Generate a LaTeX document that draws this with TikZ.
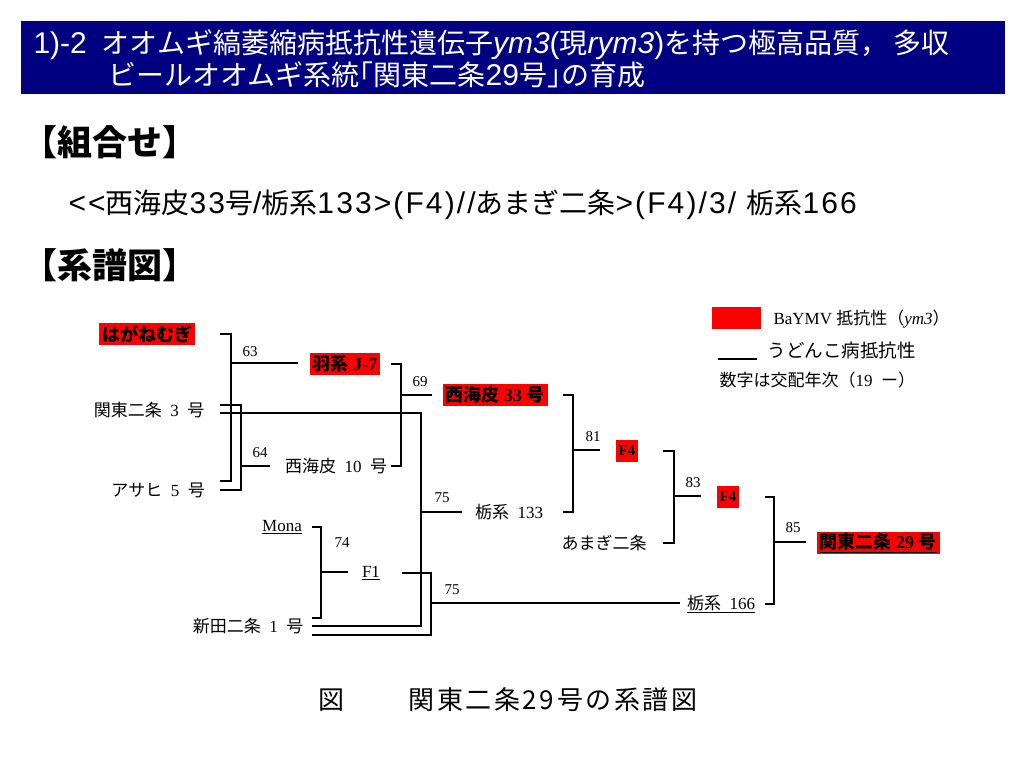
\documentclass[tikz,border=0pt]{standalone}
\usepackage{fontspec}
\usepackage{xcolor}
\setmainfont{Liberation Serif}
\newfontfamily\jp{Noto Sans CJK JP}
\newfontfamily\hd{Liberation Sans}
\newfontfamily\hdsp{Liberation Sans}[LetterSpace=7]
\newfontfamily\capjp{Noto Sans CJK JP}[LetterSpace=10]
\usetikzlibrary{calc}
\definecolor{hdblue}{RGB}{0,0,128}
\definecolor{resred}{RGB}{255,0,0}
\newcommand{\fsz}[1]{\fontsize{#1}{#1}\selectfont}

\begin{document}
\begin{tikzpicture}[x=1pt, y=-1pt, line width=1.1pt,
    cult/.style={inner sep=1pt, font=\fsz{17}},
    resist/.style={fill=resred, inner xsep=3pt, inner ysep=1pt, minimum height=22pt, font=\fsz{18}\bfseries},
    year/.style={inner sep=0pt, font=\fsz{15}},
    leg/.style={inner sep=0pt, anchor=west}]
  \useasboundingbox (0,0) rectangle (1024,768);

  % Encabezado
  \node[fill=hdblue, minimum width=984pt, minimum height=73pt, inner sep=0pt, anchor=north west] (head) at (20,20) {};
  \node[anchor=west, inner sep=0pt, text=white, font=\jp\fsz{28}] (tit1) at (33,45)
    {{\hd\fsz{30}1)-2}\hspace{15pt}オオムギ縞萎縮病抵抗性遺伝子{\hd\fsz{30}\itshape ym3}{\hd\fsz{30}(}現{\hd\fsz{30}\itshape rym3}{\hd\fsz{30})}を持つ極高品質，\,多収};
  \node[anchor=west, inner sep=0pt, text=white, font=\jp\fsz{28}] (tit2) at (108,75)
    {ビールオオムギ系統｢関東二条{\hd\fsz{30}29}号｣の育成};

  % Secciones
  \node[anchor=west, inner sep=0pt, font=\jp\fsz{35}\bfseries] (comb) at (22,142) {【組合せ】};
  \node[anchor=west, inner sep=0pt, font=\hdsp\fsz{30}] (cross) at (68,205)
    {<{}<{\jp\fsz{28}西海皮}33{\jp\fsz{28}号}/{\jp\fsz{28}栃系}133>(F4)//{\jp\fsz{28}あまぎ二条}>(F4)/3/ {\jp\fsz{28}栃系}166};
  \node[anchor=west, inner sep=0pt, font=\jp\fsz{35}\bfseries] (ped) at (22,265) {【系譜図】};

  % Cultivares
  \node[resist] (hagane) at (147,334) {\jp はがねむぎ};
  \node[cult] (kanto3) at (149,410) {{\jp 関東二条}\enskip 3\enskip{\jp 号}};
  \node[cult] (asahi) at (158,490) {{\jp アサヒ}\enskip 5\enskip{\jp 号}};
  \node[resist] (haJ7) at (345,364) {{\jp 羽系} J-7};
  \node[cult] (nishi10) at (336,466) {{\jp 西海皮}\enskip 10\enskip{\jp 号}};
  \node[resist] (nishi33) at (495,395) {{\jp 西海皮} 33 {\jp 号}};
  \node[cult] (mona) at (282,527) {\underline{Mona}};
  \node[cult] (shinden) at (248,626) {{\jp 新田二条}\enskip 1\enskip{\jp 号}};
  \node[cult] (F1) at (371,573) {\underline{F1}};
  \node[cult] (tochi133) at (509,512) {{\jp 栃系}\enskip 133};
  \node[resist, font=\fsz{15}\bfseries] (F4a) at (627,451) {F4};
  \node[cult] (amagi) at (604,543) {\jp あまぎ二条};
  \node[resist, font=\fsz{15}\bfseries] (F4b) at (728,497) {F4};
  \node[cult] (tochi166) at (721,604) {\underline{{\jp 栃系}\enskip 166}};
  \node[resist] (kanto29) at (878,543) {\underline{{\jp 関東二条} 29 {\jp 号}}};

  % Columnas y cruces
  \coordinate (colA) at (220,0);
  \coordinate (colF) at (312,0);
  \coordinate (colB) at (391,0);
  \coordinate (colG) at (402,0);
  \coordinate (colC) at (563,0);
  \coordinate (colD) at (663,0);
  \coordinate (colE) at (765,0);
  \coordinate (c63) at (231,363);
  \coordinate (c64) at (241,466);
  \coordinate (c69) at (401,395);
  \coordinate (c75a) at (421,512);
  \coordinate (c74) at (321,572);
  \coordinate (c75b) at (431,603);
  \coordinate (c81) at (573,450);
  \coordinate (c83) at (674,496);
  \coordinate (c85) at (774,542);

  % Cruzamientos
  \draw (hagane -| colA) -| (c63) |- ($(asahi -| colA)+(0,-9)$);
  \draw[shorten >=11pt] (c63) -- (c63 -| haJ7.west);
  \draw ($(kanto3 -| colA)+(0,-5)$) -| (c64) |- (asahi -| colA);
  \draw[shorten >=13pt] (c64) -- (c64 -| nishi10.west);
  \draw (haJ7 -| colB) -| (c69) |- (nishi10 -| colB);
  \draw[shorten >=10pt] (c69) -- (c69 -| nishi33.west);
  \draw ($(kanto3 -| colA)+(0,3)$) -| (c75a) |- (shinden -| colF);
  \draw[shorten >=11pt] (c75a) -- (c75a -| tochi133.west);
  \draw (mona -| colF) -| (c74) |- ($(shinden -| colF)+(0,-8)$);
  \draw[shorten >=12pt] (c74) -- (c74 -| F1.west);
  \draw (F1 -| colG) -| (c75b) |- ($(shinden -| colF)+(0,9)$);
  \draw[shorten >=5pt] (c75b) -- (c75b -| tochi166.west);
  \draw (nishi33 -| colC) -| (c81) |- (tochi133 -| colC);
  \draw[shorten >=15pt] (c81) -- (c81 -| F4a.west);
  \draw (F4a -| colD) -| (c83) |- (amagi -| colD);
  \draw[shorten >=15pt] (c83) -- (c83 -| F4b.west);
  \draw (F4b -| colE) -| (c85) |- (tochi166 -| colE);
  \draw[shorten >=10pt] (c85) -- (c85 -| kanto29.west);

  % Años de cruzamiento
  \node[year] (y63) at (250,352) {63};
  \node[year] (y64) at (260,453) {64};
  \node[year] (y69) at (420,382) {69};
  \node[year] (y74) at (342,543) {74};
  \node[year] (y75a) at (442,498) {75};
  \node[year] (y75b) at (452,590) {75};
  \node[year] (y81) at (593,437) {81};
  \node[year] (y83) at (693,483) {83};
  \node[year] (y85) at (793,528) {85};

  % Leyenda
  \node[fill=resred, minimum width=49pt, minimum height=22pt, inner sep=0pt] (legred) at (736.5,318) {};
  \node[leg, font=\fsz{17}] (legbay) at (773,319) {BaYMV\ {\jp 抵抗性（}{\itshape ym3}{\jp ）}};
  \draw (718,359) -- (757,359);
  \node[leg, font=\jp\fsz{18.5}] (legmil) at (767,350) {うどんこ病抵抗性};
  \node[leg, font=\fsz{17}] (legnum) at (719,380) {{\jp 数字は交配年次（}19\enskip{\jp ー）}};

  % Pie de figura
  \node[anchor=west, inner sep=0pt, font=\capjp\fsz{26}] (capfig) at (318,700) {図};
  \node[anchor=west, inner sep=0pt, font=\capjp\fsz{26}] (captxt) at (408,700) {関東二条29号の系譜図};
\end{tikzpicture}
\end{document}
